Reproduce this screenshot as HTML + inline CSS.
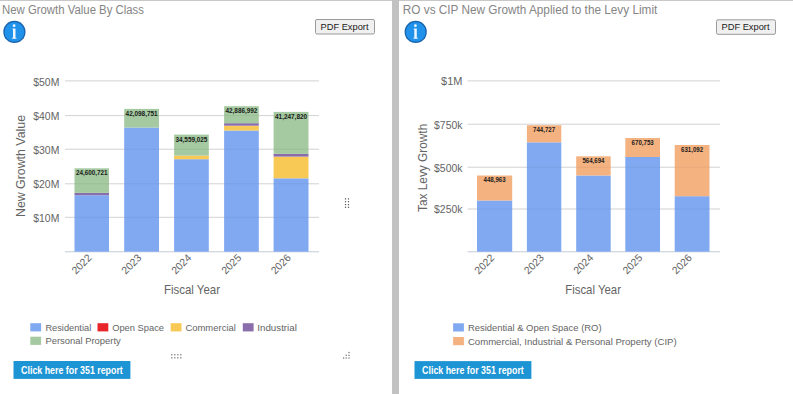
<!DOCTYPE html>
<html><head><meta charset="utf-8"><style>
html,body{margin:0;padding:0;width:793px;height:394px;overflow:hidden;background:#fff;font-family:"Liberation Sans", sans-serif;}
</style></head><body>
<svg width="793" height="394" viewBox="0 0 793 394" font-family='"Liberation Sans", sans-serif' style="position:absolute;left:0;top:0">
<rect x="0" y="0" width="793" height="394" fill="#ffffff" />
<rect x="0" y="0" width="793" height="1" fill="#c8c8c8" />
<rect x="392" y="0" width="7" height="394" fill="#c2c2c2" />
<text x="2" y="14.1" font-size="12" fill="#858585" text-anchor="start" font-weight="normal" textLength="142" lengthAdjust="spacingAndGlyphs" >New Growth Value By Class</text>
<circle cx="14.4" cy="31.9" r="11.1" fill="#1a63ad"/>
<circle cx="14.4" cy="31.9" r="9.9" fill="#2192ea"/>
<circle cx="14.1" cy="25.7" r="1.35" fill="#eef6ff"/>
<path d="M12.5 28.5 h3.0 v9.3 h0.9 v1.0 h-4.3 v-1.0 h0.9 v-8.4 h-0.5 z" fill="#eef6ff"/>
<rect x="315.5" y="19.5" width="59" height="14.5" rx="1.5" fill="#f0f0f0" stroke="#9a9a9a" stroke-width="1"/>
<text x="344.5" y="29.5" font-size="9.3" fill="#1a1a1a" text-anchor="middle" font-weight="normal" textLength="48" lengthAdjust="spacingAndGlyphs" >PDF Export</text>
<rect x="65" y="80.4" width="254" height="1.0" fill="#dedede" />
<text x="59.3" y="85.5" font-size="10.5" fill="#646464" text-anchor="end" font-weight="normal" textLength="26" lengthAdjust="spacingAndGlyphs" >$50M</text>
<rect x="65" y="115.1" width="254" height="1.0" fill="#dedede" />
<text x="59.3" y="120.19999999999999" font-size="10.5" fill="#646464" text-anchor="end" font-weight="normal" textLength="26" lengthAdjust="spacingAndGlyphs" >$40M</text>
<rect x="65" y="148.7" width="254" height="1.0" fill="#dedede" />
<text x="59.3" y="153.79999999999998" font-size="10.5" fill="#646464" text-anchor="end" font-weight="normal" textLength="26" lengthAdjust="spacingAndGlyphs" >$30M</text>
<rect x="65" y="183.3" width="254" height="1.0" fill="#dedede" />
<text x="59.3" y="188.4" font-size="10.5" fill="#646464" text-anchor="end" font-weight="normal" textLength="26" lengthAdjust="spacingAndGlyphs" >$20M</text>
<rect x="65" y="216.8" width="254" height="1.0" fill="#dedede" />
<text x="59.3" y="221.9" font-size="10.5" fill="#646464" text-anchor="end" font-weight="normal" textLength="26" lengthAdjust="spacingAndGlyphs" >$10M</text>
<rect x="65" y="251.2" width="254" height="1.1" fill="#c9d0dc" />
<rect x="74.5" y="195.2" width="34.5" height="56.5" fill="#81a9f1" />
<rect x="74.5" y="192.9" width="34.5" height="2.3" fill="#8a6dab" />
<rect x="74.5" y="168.3" width="34.5" height="24.6" fill="#a5c9a0" />
<text x="91.75" y="175.20000000000002" font-size="7.2" fill="#1a1a1a" text-anchor="middle" font-weight="bold" textLength="31.7" lengthAdjust="spacingAndGlyphs" >24,600,721</text>
<text transform="translate(92.25,258.5) rotate(-45)" font-size="10.5" fill="#646464" text-anchor="end" textLength="23" lengthAdjust="spacingAndGlyphs">2022</text>
<rect x="124.2" y="127.5" width="34.8" height="124.2" fill="#81a9f1" />
<rect x="124.2" y="108.9" width="34.8" height="18.6" fill="#a5c9a0" />
<text x="141.6" y="115.80000000000001" font-size="7.2" fill="#1a1a1a" text-anchor="middle" font-weight="bold" textLength="32.0" lengthAdjust="spacingAndGlyphs" >42,098,751</text>
<text transform="translate(142.1,258.5) rotate(-45)" font-size="10.5" fill="#646464" text-anchor="end" textLength="23" lengthAdjust="spacingAndGlyphs">2023</text>
<rect x="174.1" y="159.2" width="34.7" height="92.5" fill="#81a9f1" />
<rect x="174.1" y="155.6" width="34.7" height="3.6" fill="#f8c954" />
<rect x="174.1" y="134.6" width="34.7" height="21.0" fill="#a5c9a0" />
<text x="191.45" y="141.5" font-size="7.2" fill="#1a1a1a" text-anchor="middle" font-weight="bold" textLength="31.9" lengthAdjust="spacingAndGlyphs" >34,559,025</text>
<text transform="translate(191.95,258.5) rotate(-45)" font-size="10.5" fill="#646464" text-anchor="end" textLength="23" lengthAdjust="spacingAndGlyphs">2024</text>
<rect x="224.1" y="130.5" width="34.7" height="121.2" fill="#81a9f1" />
<rect x="224.1" y="125.7" width="34.7" height="4.8" fill="#f8c954" />
<rect x="224.1" y="123.2" width="34.7" height="2.5" fill="#8a6dab" />
<rect x="224.1" y="106.2" width="34.7" height="17.0" fill="#a5c9a0" />
<text x="241.45" y="113.10000000000001" font-size="7.2" fill="#1a1a1a" text-anchor="middle" font-weight="bold" textLength="31.9" lengthAdjust="spacingAndGlyphs" >42,886,992</text>
<text transform="translate(241.95,258.5) rotate(-45)" font-size="10.5" fill="#646464" text-anchor="end" textLength="23" lengthAdjust="spacingAndGlyphs">2025</text>
<rect x="273.6" y="178.3" width="34.9" height="73.4" fill="#81a9f1" />
<rect x="273.6" y="156.6" width="34.9" height="21.7" fill="#f8c954" />
<rect x="273.6" y="153.9" width="34.9" height="2.7" fill="#8a6dab" />
<rect x="273.6" y="111.9" width="34.9" height="42.0" fill="#a5c9a0" />
<text x="291.05" y="118.80000000000001" font-size="7.2" fill="#1a1a1a" text-anchor="middle" font-weight="bold" textLength="32.1" lengthAdjust="spacingAndGlyphs" >41,247,820</text>
<text transform="translate(291.55,258.5) rotate(-45)" font-size="10.5" fill="#646464" text-anchor="end" textLength="23" lengthAdjust="spacingAndGlyphs">2026</text>
<rect x="65" y="80.4" width="254" height="1.0" fill="#000" opacity="0.05"/>
<rect x="65" y="115.1" width="254" height="1.0" fill="#000" opacity="0.05"/>
<rect x="65" y="148.7" width="254" height="1.0" fill="#000" opacity="0.05"/>
<rect x="65" y="183.3" width="254" height="1.0" fill="#000" opacity="0.05"/>
<rect x="65" y="216.8" width="254" height="1.0" fill="#000" opacity="0.05"/>
<text x="25.6" y="166" font-size="12" fill="#646464" text-anchor="start" font-weight="normal" ></text>
<text transform="translate(25.3,166) rotate(-90)" font-size="12.2" fill="#646464" text-anchor="middle" textLength="102" lengthAdjust="spacingAndGlyphs">New Growth Value</text>
<text x="192" y="294.3" font-size="12.2" fill="#646464" text-anchor="middle" font-weight="normal" textLength="56" lengthAdjust="spacingAndGlyphs" >Fiscal Year</text>
<rect x="30.3" y="323.2" width="10.8" height="8.2" fill="#81a9f1" />
<text x="45.4" y="330.5" font-size="9.5" fill="#646464" text-anchor="start" font-weight="normal" textLength="45.8" lengthAdjust="spacingAndGlyphs" >Residential</text>
<rect x="97.5" y="323.2" width="10.8" height="8.2" fill="#e8262a" />
<text x="112.2" y="330.5" font-size="9.5" fill="#646464" text-anchor="start" font-weight="normal" textLength="51.8" lengthAdjust="spacingAndGlyphs" >Open Space</text>
<rect x="170.7" y="323.2" width="10.8" height="8.2" fill="#f8c954" />
<text x="185.4" y="330.5" font-size="9.5" fill="#646464" text-anchor="start" font-weight="normal" textLength="50.5" lengthAdjust="spacingAndGlyphs" >Commercial</text>
<rect x="242.8" y="323.2" width="10.8" height="8.2" fill="#8a6dab" />
<text x="257.3" y="330.5" font-size="9.5" fill="#646464" text-anchor="start" font-weight="normal" textLength="39.6" lengthAdjust="spacingAndGlyphs" >Industrial</text>
<rect x="30.3" y="336.7" width="10.8" height="8.2" fill="#a5c9a0" />
<text x="45.4" y="344.0" font-size="9.5" fill="#646464" text-anchor="start" font-weight="normal" textLength="75.4" lengthAdjust="spacingAndGlyphs" >Personal Property</text>
<rect x="344.9" y="198.3" width="1.2" height="1.2" fill="#555" />
<rect x="344.9" y="201.1" width="1.2" height="1.2" fill="#555" />
<rect x="344.9" y="204.0" width="1.2" height="1.2" fill="#555" />
<rect x="344.9" y="206.70000000000002" width="1.2" height="1.2" fill="#555" />
<rect x="347.9" y="198.3" width="1.2" height="1.2" fill="#555" />
<rect x="347.9" y="201.1" width="1.2" height="1.2" fill="#555" />
<rect x="347.9" y="204.0" width="1.2" height="1.2" fill="#555" />
<rect x="347.9" y="206.70000000000002" width="1.2" height="1.2" fill="#555" />
<rect x="171.20000000000002" y="354.2" width="1.2" height="1.2" fill="#666" />
<rect x="171.20000000000002" y="357.2" width="1.2" height="1.2" fill="#666" />
<rect x="174.20000000000002" y="354.2" width="1.2" height="1.2" fill="#666" />
<rect x="174.20000000000002" y="357.2" width="1.2" height="1.2" fill="#666" />
<rect x="177.20000000000002" y="354.2" width="1.2" height="1.2" fill="#666" />
<rect x="177.20000000000002" y="357.2" width="1.2" height="1.2" fill="#666" />
<rect x="180.20000000000002" y="354.2" width="1.2" height="1.2" fill="#666" />
<rect x="180.20000000000002" y="357.2" width="1.2" height="1.2" fill="#666" />
<rect x="348.4" y="351.9" width="1.2" height="1.2" fill="#666" />
<rect x="348.4" y="354.7" width="1.2" height="1.2" fill="#666" />
<rect x="345.59999999999997" y="354.7" width="1.2" height="1.2" fill="#666" />
<rect x="348.4" y="357.4" width="1.2" height="1.2" fill="#666" />
<rect x="345.59999999999997" y="357.4" width="1.2" height="1.2" fill="#666" />
<rect x="343.0" y="357.4" width="1.2" height="1.2" fill="#666" />
<rect x="13.5" y="361" width="116.9" height="17.9" fill="#1d94d3" />
<text x="71.95" y="373.9" font-size="10.2" fill="#ffffff" text-anchor="middle" font-weight="bold" textLength="101.7" lengthAdjust="spacingAndGlyphs" >Click here for 351 report</text>
<text x="402.8" y="14.1" font-size="12" fill="#858585" text-anchor="start" font-weight="normal" textLength="254.5" lengthAdjust="spacingAndGlyphs" >RO vs CIP New Growth Applied to the Levy Limit</text>
<circle cx="415.7" cy="31.9" r="11.1" fill="#1a63ad"/>
<circle cx="415.7" cy="31.9" r="9.9" fill="#2192ea"/>
<circle cx="415.4" cy="25.7" r="1.35" fill="#eef6ff"/>
<path d="M413.8 28.5 h3.0 v9.3 h0.9 v1.0 h-4.3 v-1.0 h0.9 v-8.4 h-0.5 z" fill="#eef6ff"/>
<rect x="716.5" y="19.8" width="59" height="14.5" rx="1.5" fill="#f0f0f0" stroke="#9a9a9a" stroke-width="1"/>
<text x="745.5" y="29.8" font-size="9.3" fill="#1a1a1a" text-anchor="middle" font-weight="normal" textLength="48" lengthAdjust="spacingAndGlyphs" >PDF Export</text>
<rect x="467.6" y="80.4" width="252.4" height="1.0" fill="#dedede" />
<text x="462.4" y="85.2" font-size="10.5" fill="#646464" text-anchor="end" font-weight="normal" textLength="21.3" lengthAdjust="spacingAndGlyphs" >$1M</text>
<rect x="467.6" y="123.7" width="252.4" height="1.0" fill="#dedede" />
<text x="462.4" y="128.5" font-size="10.5" fill="#646464" text-anchor="end" font-weight="normal" textLength="28.3" lengthAdjust="spacingAndGlyphs" >$750k</text>
<rect x="467.6" y="166.7" width="252.4" height="1.0" fill="#dedede" />
<text x="462.4" y="171.5" font-size="10.5" fill="#646464" text-anchor="end" font-weight="normal" textLength="28.3" lengthAdjust="spacingAndGlyphs" >$500k</text>
<rect x="467.6" y="208.5" width="252.4" height="1.0" fill="#dedede" />
<text x="462.4" y="213.3" font-size="10.5" fill="#646464" text-anchor="end" font-weight="normal" textLength="28.3" lengthAdjust="spacingAndGlyphs" >$250k</text>
<rect x="467.6" y="251.2" width="252.4" height="1.1" fill="#c9d0dc" />
<rect x="477.0" y="200.5" width="35.2" height="51.2" fill="#81a9f1" />
<rect x="477.0" y="175.5" width="35.2" height="25.0" fill="#f4b281" />
<text x="494.6" y="182.4" font-size="7.2" fill="#1a1a1a" text-anchor="middle" font-weight="bold" textLength="22.1" lengthAdjust="spacingAndGlyphs" >448,963</text>
<text transform="translate(495.1,258.5) rotate(-45)" font-size="10.5" fill="#646464" text-anchor="end" textLength="23" lengthAdjust="spacingAndGlyphs">2022</text>
<rect x="526.9" y="142.3" width="34.4" height="109.4" fill="#81a9f1" />
<rect x="526.9" y="125.2" width="34.4" height="17.1" fill="#f4b281" />
<text x="544.0999999999999" y="132.1" font-size="7.2" fill="#1a1a1a" text-anchor="middle" font-weight="bold" textLength="22.1" lengthAdjust="spacingAndGlyphs" >744,727</text>
<text transform="translate(544.5999999999999,258.5) rotate(-45)" font-size="10.5" fill="#646464" text-anchor="end" textLength="23" lengthAdjust="spacingAndGlyphs">2023</text>
<rect x="576.2" y="175.5" width="34.5" height="76.2" fill="#81a9f1" />
<rect x="576.2" y="156.3" width="34.5" height="19.2" fill="#f4b281" />
<text x="593.45" y="163.20000000000002" font-size="7.2" fill="#1a1a1a" text-anchor="middle" font-weight="bold" textLength="22.1" lengthAdjust="spacingAndGlyphs" >564,694</text>
<text transform="translate(593.95,258.5) rotate(-45)" font-size="10.5" fill="#646464" text-anchor="end" textLength="23" lengthAdjust="spacingAndGlyphs">2024</text>
<rect x="625.3" y="157.0" width="34.7" height="94.7" fill="#81a9f1" />
<rect x="625.3" y="138.0" width="34.7" height="19.0" fill="#f4b281" />
<text x="642.65" y="144.9" font-size="7.2" fill="#1a1a1a" text-anchor="middle" font-weight="bold" textLength="22.1" lengthAdjust="spacingAndGlyphs" >670,753</text>
<text transform="translate(643.15,258.5) rotate(-45)" font-size="10.5" fill="#646464" text-anchor="end" textLength="23" lengthAdjust="spacingAndGlyphs">2025</text>
<rect x="674.7" y="196.2" width="34.8" height="55.5" fill="#81a9f1" />
<rect x="674.7" y="145.0" width="34.8" height="51.2" fill="#f4b281" />
<text x="692.1" y="151.9" font-size="7.2" fill="#1a1a1a" text-anchor="middle" font-weight="bold" textLength="22.1" lengthAdjust="spacingAndGlyphs" >631,092</text>
<text transform="translate(692.6,258.5) rotate(-45)" font-size="10.5" fill="#646464" text-anchor="end" textLength="23" lengthAdjust="spacingAndGlyphs">2026</text>
<rect x="467.6" y="80.4" width="252.4" height="1.0" fill="#000" opacity="0.05"/>
<rect x="467.6" y="123.7" width="252.4" height="1.0" fill="#000" opacity="0.05"/>
<rect x="467.6" y="166.7" width="252.4" height="1.0" fill="#000" opacity="0.05"/>
<rect x="467.6" y="208.5" width="252.4" height="1.0" fill="#000" opacity="0.05"/>
<text transform="translate(427.3,167.9) rotate(-90)" font-size="12" fill="#646464" text-anchor="middle" textLength="88.3" lengthAdjust="spacingAndGlyphs">Tax Levy Growth</text>
<text x="593.1" y="294.3" font-size="12.2" fill="#646464" text-anchor="middle" font-weight="normal" textLength="55.8" lengthAdjust="spacingAndGlyphs" >Fiscal Year</text>
<rect x="453.1" y="323.3" width="10.8" height="8.2" fill="#81a9f1" />
<text x="467.9" y="330.90000000000003" font-size="9.5" fill="#646464" text-anchor="start" font-weight="normal" textLength="133.7" lengthAdjust="spacingAndGlyphs" >Residential &amp; Open Space (RO)</text>
<rect x="453.1" y="337.0" width="10.8" height="8.2" fill="#f4b281" />
<text x="467.9" y="344.6" font-size="9.5" fill="#646464" text-anchor="start" font-weight="normal" textLength="208.8" lengthAdjust="spacingAndGlyphs" >Commercial, Industrial &amp; Personal Property (CIP)</text>
<rect x="414.5" y="361.1" width="116.9" height="17.8" fill="#1d94d3" />
<text x="472.95" y="374.0" font-size="10.2" fill="#ffffff" text-anchor="middle" font-weight="bold" textLength="101.7" lengthAdjust="spacingAndGlyphs" >Click here for 351 report</text>
</svg>
</body></html>
